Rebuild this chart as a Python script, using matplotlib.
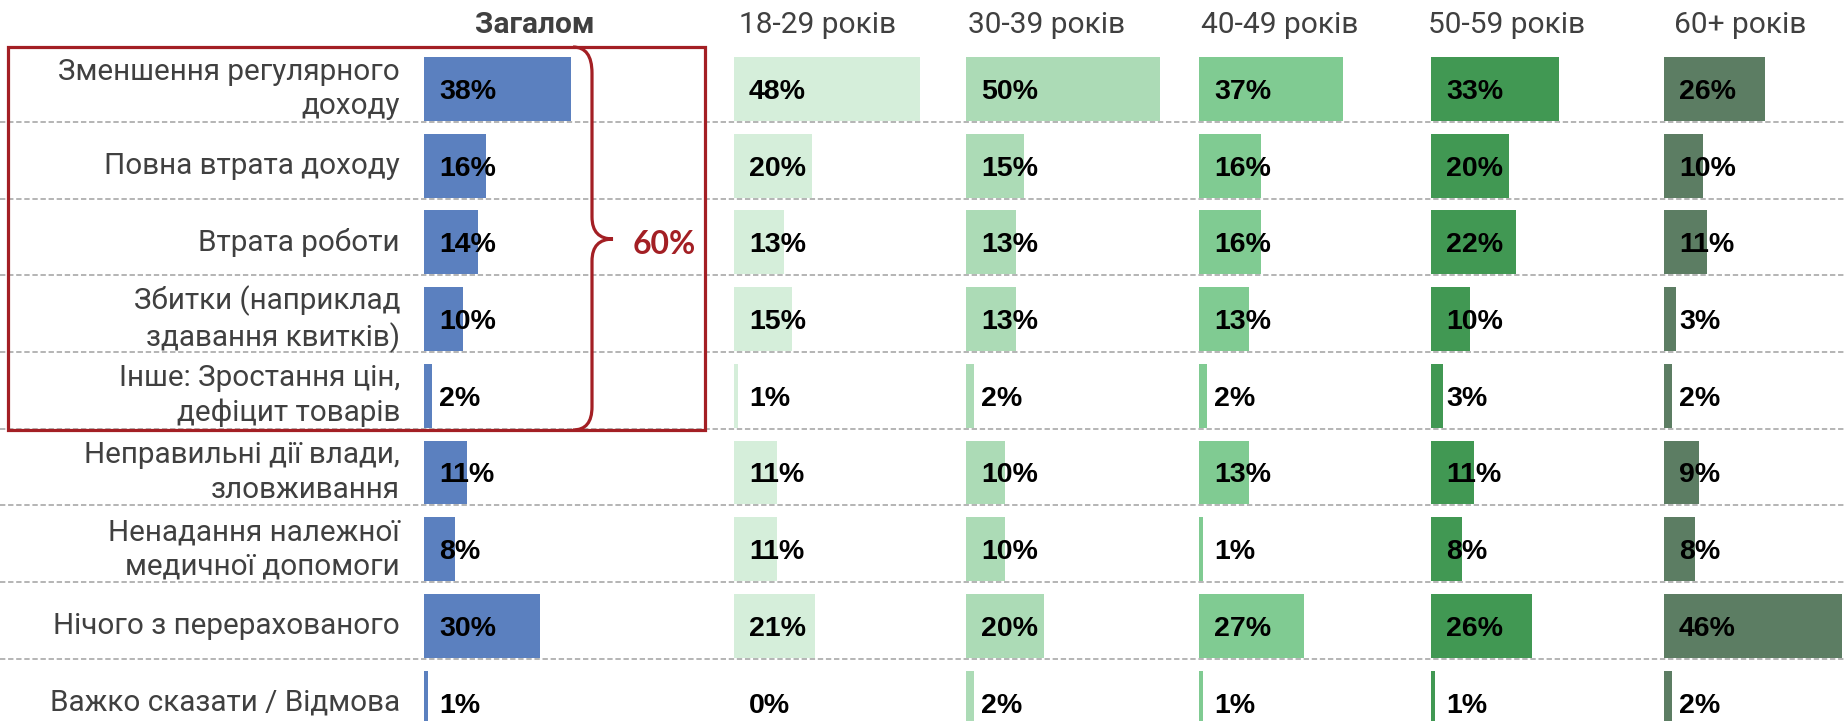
# %%
import matplotlib.pyplot as plt
from matplotlib.patches import Rectangle, PathPatch
from matplotlib.path import Path


# %% дані
categories = [
    'Зменшення регулярного\nдоходу',
    'Повна втрата доходу',
    'Втрата роботи',
    'Збитки (наприклад\nздавання квитків)',
    'Інше: Зростання цін,\nдефіцит товарів',
    'Неправильні дії влади,\nзловживання',
    'Ненадання належної\nмедичної допомоги',
    'Нічого з перерахованого',
    'Важко сказати / Відмова',
]
groups = ['Загалом', '18-29 років', '30-39 років', '40-49 років', '50-59 років', '60+ років']
total = [38, 16, 14, 10, 2, 11, 8, 30, 1]
age_18_29 = [48, 20, 13, 15, 1, 11, 11, 21, 0]
age_30_39 = [50, 15, 13, 13, 2, 10, 10, 20, 2]
age_40_49 = [37, 16, 16, 13, 2, 13, 1, 27, 1]
age_50_59 = [33, 20, 22, 10, 3, 11, 8, 26, 1]
age_60 = [26, 10, 11, 3, 2, 9, 8, 46, 2]
bracket_label = '60%'

series = [total, age_18_29, age_30_39, age_40_49, age_50_59, age_60]
colors = ['#5B80BF', '#D5EEDA', '#ACDBB6', '#80CB92', '#419853', '#5C7D63']


# %% розмітка (пікселі)
W, H = 1845, 721
row0, row_h = 89, 76.7
col_left = [424, 734, 966, 1199, 1431, 1664]
head_x = [535, 818, 1047, 1280, 1507, 1740]
px_pct = 3.88
col_w = 230
red = '#A31F24'
grey = '#404040'


def ry(px):
    return (px - row0) / row_h


y_top, y_bot = ry(0), ry(H)
n = len(categories)

fig = plt.figure(figsize=(W / 100, H / 100), dpi=100)

# фон: роздільники, підписи, рамка
bg = fig.add_axes([0, 0, 1, 1])
bg.set_xlim(0, W)
bg.set_ylim(y_bot, y_top)
bg.axis('off')

for i in range(n - 1):
    bg.plot([0, W], [i + 0.43] * 2, ls=(0, (3.5, 1.8)), color='#A0A0A0', lw=1.1)

for i, c in enumerate(categories):
    bg.text(400, i, c, ha='right', va='center', fontsize=21.3, color=grey,
            family='Roboto', linespacing=1.28)

bg.add_patch(Rectangle((8, ry(47)), 705 - 8, ry(430) - ry(47),
                       fill=False, ec=red, lw=2.3, zorder=5))

# фігурна дужка
verts = [(573, 47), (592, 47), (592, 73),
         (592, 217),
         (592, 239), (613, 239),
         (592, 239), (592, 261),
         (592, 407),
         (592, 430), (573, 430)]
codes = [Path.MOVETO, Path.CURVE3, Path.CURVE3,
         Path.LINETO,
         Path.CURVE3, Path.CURVE3,
         Path.CURVE3, Path.CURVE3,
         Path.LINETO,
         Path.CURVE3, Path.CURVE3]
verts = [(x, ry(y)) for x, y in verts]
bg.add_patch(PathPatch(Path(verts, codes), fill=False, ec=red, lw=2.3, zorder=5))
bg.text(664, ry(245), bracket_label, ha='center', va='center', fontsize=23,
        fontweight='bold', color=red, family='Lato')


# %% стовпчики
for k, (name, vals) in enumerate(zip(groups, series)):
    ax = fig.add_axes([col_left[k] / W, 0, col_w / W, 1])
    ax.set_xlim(0, col_w / px_pct)
    ax.set_ylim(y_bot, y_top)
    ax.patch.set_alpha(0)
    ax.axis('off')
    ax.barh(range(n), vals, height=0.834, color=colors[k])
    for i, v in enumerate(vals):
        ax.annotate(f'{v}%', (0, i), xytext=(15, -3), textcoords='offset pixels',
                    ha='left', va='center', fontsize=20.5, fontweight='bold',
                    family='Liberation Sans', color='black')
    fig.text(head_x[k] / W, 1 - 25 / H, name, ha='center', va='center',
             fontsize=21.5, color=grey, family='Roboto',
             fontweight='bold' if k == 0 else 'normal')

fig.savefig('out.png', dpi=100)
